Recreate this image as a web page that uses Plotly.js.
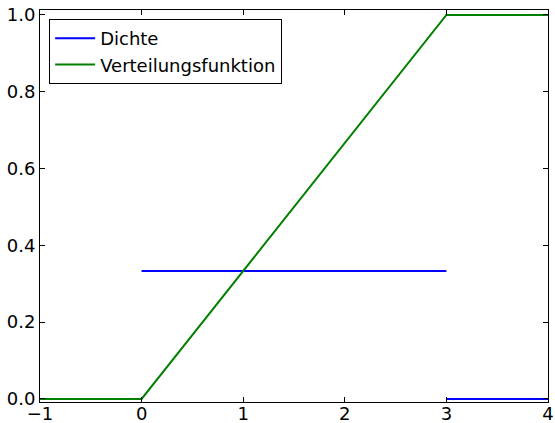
<!DOCTYPE html>
<html>
<head>
<meta charset="utf-8">
<script src="https://cdn.plot.ly/plotly-3.0.1.min.js"></script>
<style>html,body{margin:0;padding:0;background:#fff;}#chart{width:555px;height:423px;}</style>
</head>
<body>
<div id="chart"></div>
<script>
// Data
const dichteX = [-1, 0, null, 0, 3, null, 3, 4];
const dichteY = [0, 0, null, 1/3, 1/3, null, 0, 0];
const vertX = [-1, 0, 3, 4];
const vertY = [0, 0, 1, 1];
const names = ["Dichte", "Verteilungsfunktion"];
const xTicks = [-1, 0, 1, 2, 3, 4];
const yTicks = [0, 0.2, 0.4, 0.6, 0.8, 1.0];

const font = "DejaVu Sans, sans-serif";
const traces = [
  {x: dichteX, y: dichteY, mode: "lines", name: names[0], line: {color: "#0000ff", width: 2}, connectgaps: false},
  {x: vertX, y: vertY, mode: "lines", name: names[1], line: {color: "#008000", width: 2}}
];
const axisCommon = {
  showgrid: false, zeroline: false, showline: true, linecolor: "#000", linewidth: 1,
  mirror: "ticks", ticks: "inside", ticklen: 5, tickcolor: "#000", tickwidth: 1,
  tickfont: {family: font, size: 18, color: "#000"}
};
const layout = {
  width: 555, height: 423,
  margin: {l: 40, r: 7, t: 10, b: 21},
  paper_bgcolor: "#fff", plot_bgcolor: "#fff",
  showlegend: true,
  legend: {x: 0.018, y: 0.977, xanchor: "left", yanchor: "top",
    bordercolor: "#000", borderwidth: 1, bgcolor: "#fff", itemwidth: 40,
    tracegroupgap: 0,
    font: {family: font, size: 18, color: "#000"}},
  xaxis: Object.assign({}, axisCommon, {range: [-1, 4], tickvals: xTicks, ticklabelstandoff: -5,
    ticktext: xTicks.map(v => v < 0 ? "\u2212" + Math.abs(v) : String(v))}),
  yaxis: Object.assign({}, axisCommon, {range: [-0.008, 1.013], tickvals: yTicks, ticktext: yTicks.map(v => v.toFixed(1))})
};
Plotly.newPlot("chart", traces, layout, {displayModeBar: false, staticPlot: true});
</script>
</body>
</html>
